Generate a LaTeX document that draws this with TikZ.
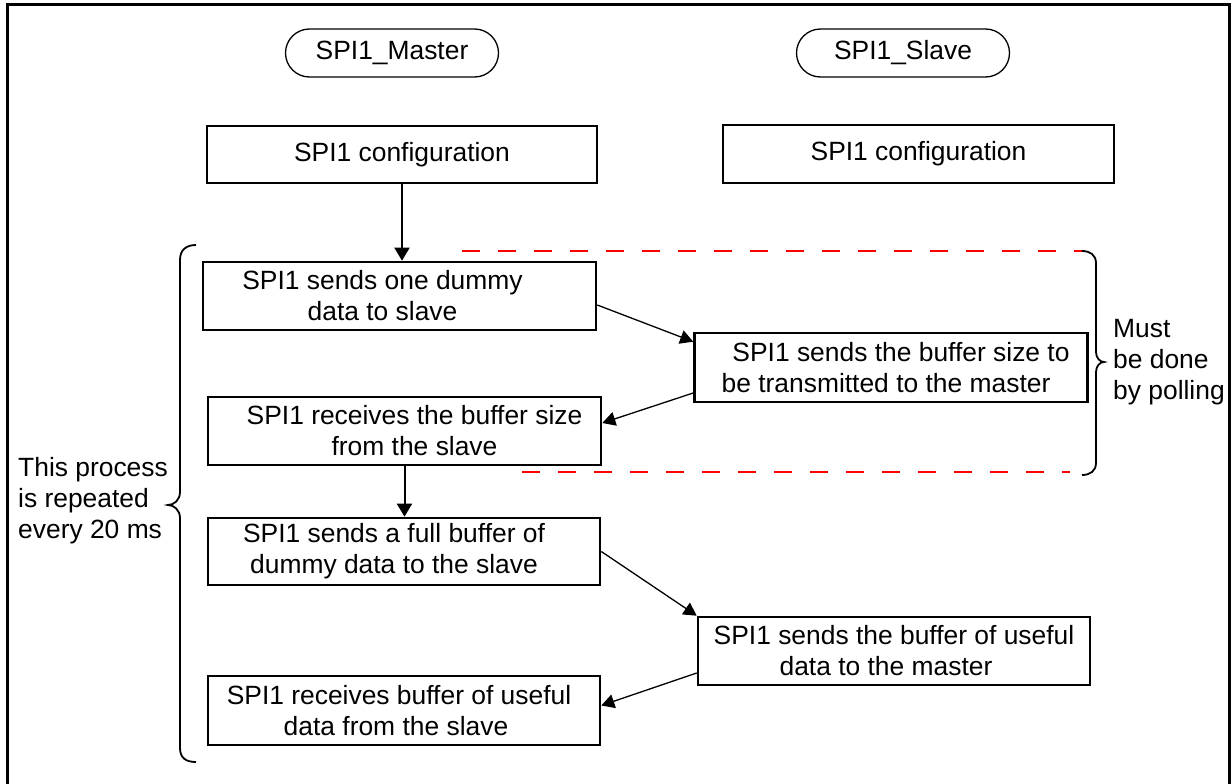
\documentclass[tikz,border=0pt]{standalone}
\usepackage{fontspec}
\setmainfont{Liberation Sans}
\usetikzlibrary{arrows.meta,calc}
\begin{document}
\begin{tikzpicture}[x=1pt,y=-1pt,
  font=\fontsize{26.4}{31}\selectfont,
  box/.style={draw, line width=2.6pt, inner sep=0pt, align=center},
  pill/.style={draw, line width=1.3pt, rounded corners=24pt, minimum width=213pt, minimum height=48pt, inner sep=0pt},
  flow/.style={line width=1.3pt, -{Triangle[length=13pt,width=14pt]}},
  down/.style={line width=2pt, -{Triangle[length=13pt,width=15pt]}},
  brace/.style={line width=1.8pt},
  poll/.style={draw=red, line width=2.5pt, dash pattern=on 18pt off 18pt},
  note/.style={anchor=west, align=left, inner sep=0pt}]
\useasboundingbox (0,0) rectangle (1231,784);
\clip (0,0) rectangle (1231,784);
\fill[white] (0,0) rectangle (1231,784);
\draw[line width=3pt] (7,5) rectangle (1229,800);

\node[pill] (m) at (392,53) {SPI1\_Master};
\node[pill] (s) at (903,53) {SPI1\_Slave};

\node[box, minimum width=390, minimum height=57] (mc) at (402,154.5) {SPI1 configuration};
\node[box, minimum width=391, minimum height=58] (sc) at (918.5,154) {SPI1 configuration};

\node[box, minimum width=393, minimum height=68] (b1) at (399.5,296) {SPI1 sends one dummy\kern34pt\\data to slave\kern34pt};
\node[box, minimum width=393, minimum height=68] (b2) at (404.5,431) {SPI1 receives the buffer size\kern-20pt\\from the slave\kern-20pt};
\node[box, minimum width=393, minimum height=69] (A) at (891,367.5) {SPI1 sends the buffer size to\kern-20pt\\be transmitted to the master\kern10pt};
\node[box, minimum width=392, minimum height=67] (b3) at (404,551.5) {SPI1 sends a full buffer of\kern20pt\\dummy data to the slave\kern20pt};
\node[box, minimum width=392, minimum height=68] (B) at (894,651) {SPI1 sends the buffer of useful\\data to the master\kern16pt};
\node[box, minimum width=392, minimum height=69] (b4) at (404,710.5) {SPI1 receives buffer of useful\kern10pt\\data from the slave\kern16pt};

\draw[down] (mc.south) -- (mc.south |- b1.north);
\draw[down] (b2.south) -- (b2.south |- b3.north);
\draw[flow] ($(b1.east)+(0,9)$) -- ($(A.north west)+(0,10)$);
\draw[flow] ($(A.west)+(0,25.5)$) -- ($(b2.east)+(0,-8)$);
\draw[flow] (b3.east) -- (B.north west);
\draw[flow] ($(B.west)+(0,22)$) -- ($(b4.east)+(0,-5)$);

\draw[poll] (462,251) -- (1082,251);
\draw[poll] (522,472) -- (1070,472);

\draw[brace] (196,245) .. controls (186,245) and (180,250) .. (180,260) -- (180,492) .. controls (180,500) and (174,505) .. (168,505) .. controls (174,505) and (180,510) .. (180,518) -- (180,748) .. controls (180,758) and (186,762) .. (196,762);
\draw[brace] (1082,251) .. controls (1090,251) and (1096,255) .. (1096,263) -- (1096,352) .. controls (1096,358) and (1100,362) .. (1104,362) .. controls (1100,362) and (1096,366) .. (1096,372) -- (1096,463) .. controls (1096,471) and (1090,475) .. (1082,475);

\node[note] (rep) at (18,501) {This process\\is repeated\\every 20 ms};
\node[note] (pol) at (1113,362) {Must\\be done\\by polling};
\end{tikzpicture}
\end{document}
